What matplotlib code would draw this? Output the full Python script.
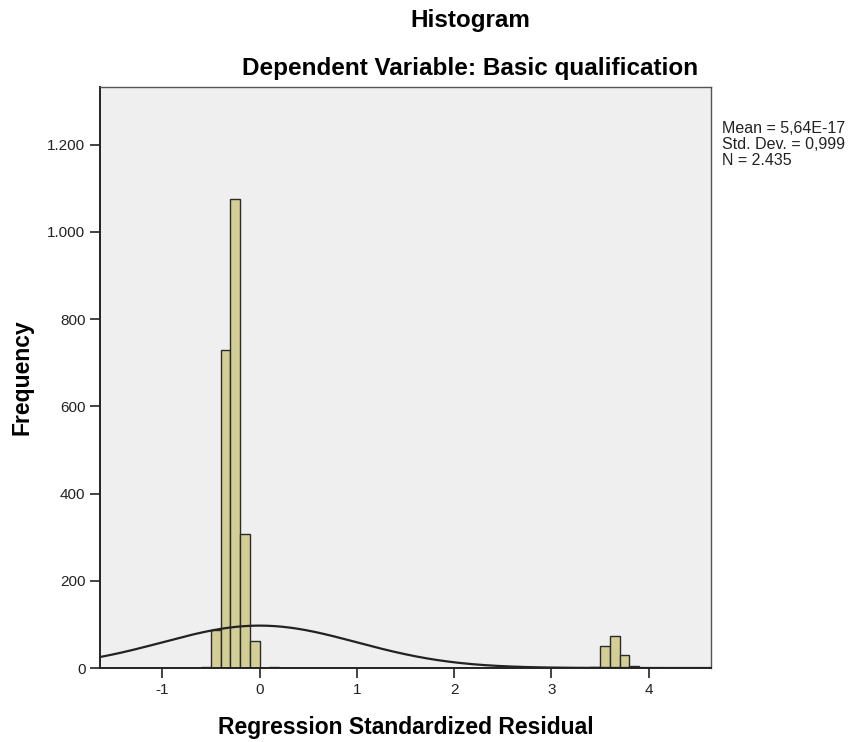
import numpy as np
import matplotlib
matplotlib.use("Agg")
import matplotlib.pyplot as plt
from matplotlib.ticker import FuncFormatter

plt.rcParams["font.family"] = ["Liberation Sans", "DejaVu Sans"]
plt.rcParams["axes.unicode_minus"] = False

# residual histogram, bin width 0.1
bin_left = [-0.6, -0.5, -0.4, -0.3, -0.2, -0.1, 0.1,
            3.4, 3.5, 3.6, 3.7, 3.8]
counts = [2, 87, 730, 1075, 308, 63, 2,
          3, 50, 73, 30, 4]
bin_width = 0.1

res_mean = 5.64e-17
res_std = 0.999
n_obs = 2435

x_ticks = [-1, 0, 1, 2, 3, 4]
y_ticks = [0, 200, 400, 600, 800, 1000, 1200]

fig = plt.figure(figsize=(8.52, 7.42), dpi=100)
ax = fig.add_axes([0.1174, 0.0997, 0.7171, 0.7830])
ax.set_facecolor("#efefef")

ax.bar(bin_left, counts, width=bin_width, align="edge",
       color="#d3ce96", edgecolor="#2b2b2b", linewidth=1.0, zorder=2)

# fitted normal curve scaled to counts per bin
xs = np.linspace(-1.64, 4.64, 400)
pdf = np.exp(-0.5 * ((xs - res_mean) / res_std) ** 2) / (res_std * np.sqrt(2 * np.pi))
ax.plot(xs, pdf * n_obs * bin_width, color="#222222", linewidth=1.6, zorder=3)

ax.set_xlim(-1.64, 4.64)
ax.set_ylim(0, 1332)
ax.set_xticks(x_ticks)
ax.set_yticks(y_ticks)
ax.yaxis.set_major_formatter(FuncFormatter(lambda v, p: f"{int(v):,}".replace(",", ".")))
ax.tick_params(axis="both", direction="out", length=7, width=1.2,
               color="#222222", labelsize=11, labelcolor="#222222")

for side in ["left", "bottom"]:
    ax.spines[side].set_color("#222222")
    ax.spines[side].set_linewidth(1.4)
for side in ["top", "right"]:
    ax.spines[side].set_color("#555555")
    ax.spines[side].set_linewidth(1.0)

ax.set_xlabel("Regression Standardized Residual", fontsize=16.5,
              fontweight="bold", labelpad=14)
ax.set_ylabel("Frequency", fontsize=16.5, fontweight="bold", labelpad=10)

fig.text(0.552, 0.972, "Histogram", ha="center", va="center",
         fontsize=17.5, fontweight="bold")
fig.text(0.552, 0.908, "Dependent Variable: Basic qualification",
         ha="center", va="center", fontsize=17.5, fontweight="bold")

stats = "Mean = 5,64E-17\nStd. Dev. = 0,999\nN = 2.435"
fig.text(0.847, 0.837, stats, ha="left", va="top", fontsize=11.5,
         color="#222222", linespacing=1.08)

fig.savefig("out.png", dpi=100, facecolor="white")
